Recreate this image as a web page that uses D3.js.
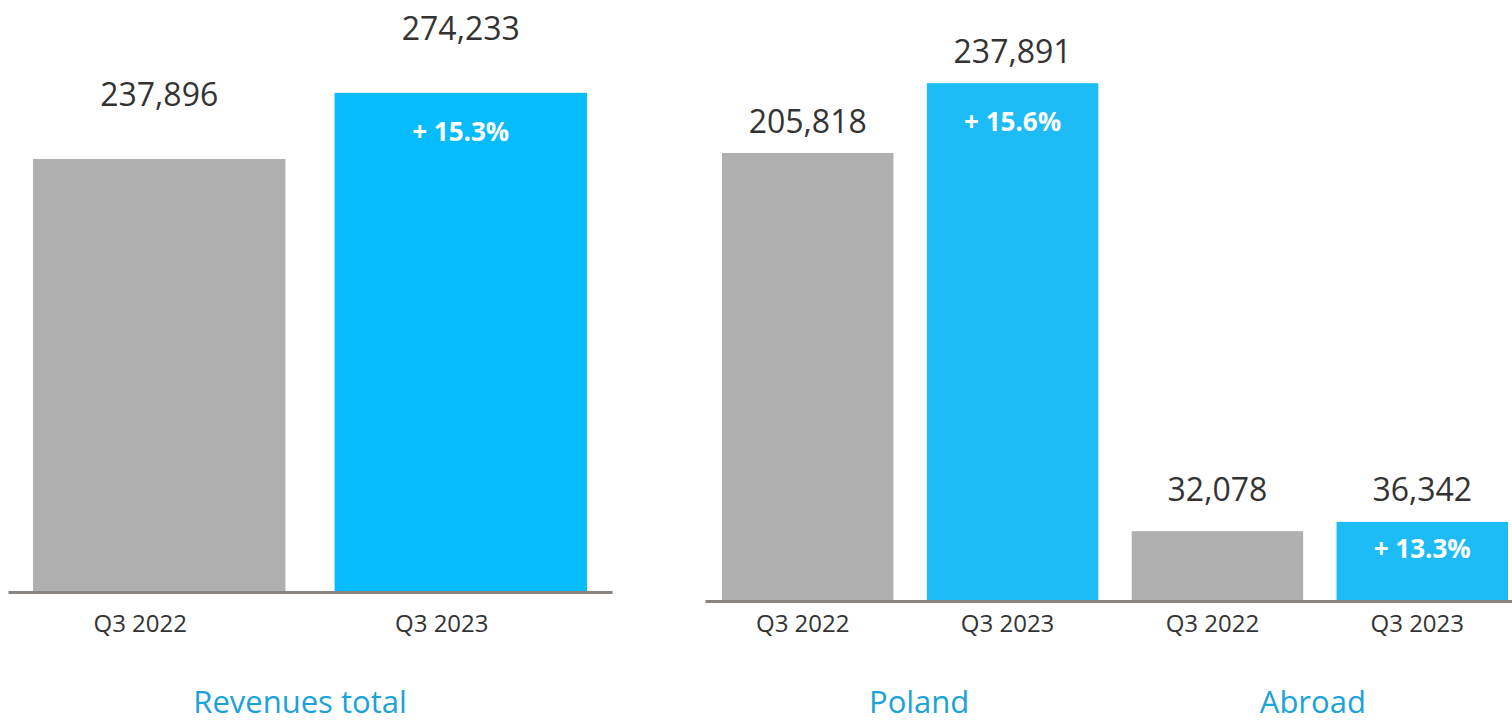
<!DOCTYPE html>
<html>
<head>
<meta charset="utf-8">
<script src="https://cdn.jsdelivr.net/npm/d3@7"></script>
<style>
  html, body { margin: 0; padding: 0; background: #fff; }
  svg { display: block; }
  text { font-family: "Open Sans", "Noto Sans", sans-serif; }
</style>
</head>
<body>
<svg id="chart" width="1512" height="721"></svg>
<script>
// ---- data ----
const periods = ["Q3 2022", "Q3 2023"];
const totalValues = [237896, 274233];
const polandValues = [205818, 237891];
const abroadValues = [32078, 36342];
const groupNames = ["Revenues total", "Poland", "Abroad"];
const totalChange = "+ 15.3%";
const polandChange = "+ 15.6%";
const abroadChange = "+ 13.3%";

// ---- styles ----
const grey = "#b0b0b0";
const blueLeft = "#06bcfd";
const blueRight = "#1dbcf6";
const axisColor = "#8b837e";
const textColor = "#333333";
const titleColor = "#1aa2d9";

const svg = d3.select("#chart");
const fmt = d3.format(",");

function drawPanel(cfg) {
  const g = svg.append("g");
  const x = d3.scaleBand().domain(cfg.keys).range(cfg.xRange)
    .paddingInner(0.163).paddingOuter(0.083);
  const y = d3.scaleLinear().domain([0, 250000]).range([cfg.base, cfg.yTop]);

  // bars
  g.selectAll("rect.bar").data(cfg.items).enter().append("rect")
    .attr("class", "bar")
    .attr("x", d => x(d.key))
    .attr("width", x.bandwidth())
    .attr("y", d => y(d.value))
    .attr("height", d => cfg.base - y(d.value))
    .attr("fill", d => d.period === periods[0] ? grey : cfg.blue);

  // value labels
  g.selectAll("text.val").data(cfg.items).enter().append("text")
    .attr("class", "val")
    .attr("x", d => x(d.key) + x.bandwidth() / 2)
    .attr("y", d => Math.min(y(d.value) - cfg.valGap, cfg.base - 100))
    .attr("text-anchor", "middle")
    .attr("font-size", 32)
    .attr("fill", textColor)
    .text(d => fmt(d.value));

  // change labels in the blue bars
  g.selectAll("text.chg").data(cfg.items.filter(d => d.change)).enter().append("text")
    .attr("class", "chg")
    .attr("x", d => x(d.key) + x.bandwidth() / 2)
    .attr("y", d => Math.min(y(d.value) + 48, cfg.base - 43))
    .attr("text-anchor", "middle")
    .attr("font-size", 26)
    .attr("font-weight", 700)
    .attr("fill", "#ffffff")
    .text(d => d.change);

  // axis
  const axis = d3.axisBottom(x).tickSize(0).tickSizeOuter(0)
    .tickFormat(k => k.split("|")[1]);
  const ag = g.append("g").attr("transform", `translate(0,${cfg.base})`).call(axis);
  ag.select(".domain").attr("stroke", axisColor).attr("stroke-width", 3);
  ag.selectAll(".tick text")
    .attr("y", 632 - cfg.base)
    .attr("dy", null)
    .attr("dx", cfg.tickDx)
    .attr("font-size", 24)
    .attr("font-family", "'Open Sans', sans-serif")
    .attr("fill", textColor);

  // group titles
  cfg.groups.forEach((gr, gi) => {
    const ks = cfg.keys.filter(k => k.startsWith(gr + "|"));
    const x0 = x(ks[0]);
    const x1 = x(ks[ks.length - 1]) + x.bandwidth();
    g.append("text")
      .attr("x", (x0 + x1) / 2 + cfg.titleDx[gi])
      .attr("y", 713)
      .attr("text-anchor", "middle")
      .attr("font-size", 31)
      .attr("fill", titleColor)
      .text(gr);
  });
}

function makeItems(group, values, change) {
  return periods.map((p, i) => ({
    key: group + "|" + p, period: p, value: values[i],
    change: i === 1 ? change : null
  }));
}

// left panel
const leftItems = makeItems(groupNames[0], totalValues, totalChange);
drawPanel({
  items: leftItems,
  keys: leftItems.map(d => d.key),
  groups: [groupNames[0]],
  xRange: [8, 612],
  base: 592,
  yTop: 592 - 250000 * (433 / 237896),
  blue: blueLeft,
  valGap: 53,
  tickDx: -19,
  titleDx: [-10]
});

// right panel
const rightItems = makeItems(groupNames[1], polandValues, polandChange)
  .concat(makeItems(groupNames[2], abroadValues, abroadChange));
drawPanel({
  items: rightItems,
  keys: rightItems.map(d => d.key),
  groups: [groupNames[1], groupNames[2]],
  xRange: [705, 1525],
  base: 601,
  yTop: 601 - 250000 * (448 / 205818),
  blue: blueRight,
  valGap: 20,
  tickDx: -5,
  titleDx: [9, -7]
});
</script>
</body>
</html>
